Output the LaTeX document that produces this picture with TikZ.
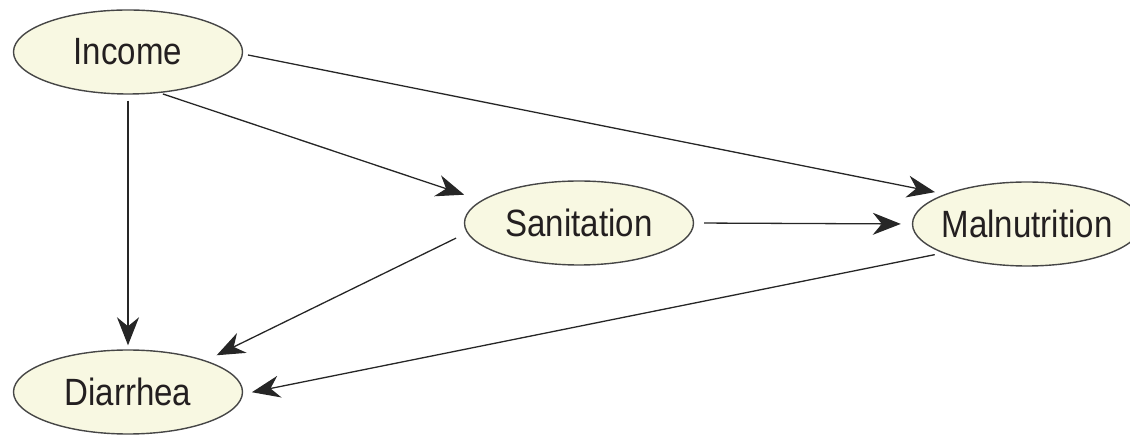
\documentclass[tikz,border=0pt]{standalone}
\usepackage{fontspec}
\newfontfamily\labelfont[FakeStretch=0.87]{Liberation Sans}
\usetikzlibrary{shapes.geometric,arrows.meta}
\definecolor{nodefill}{RGB}{248,248,226}
\definecolor{nodeedge}{RGB}{70,70,70}
\definecolor{textcol}{RGB}{35,31,32}
% zero-width label box so the ellipse keeps its set size
\newcommand{\lbl}[1]{\makebox[0pt][c]{#1}}
\tikzset{
  factor/.style={ellipse, draw=nodeedge, line width=1.4pt, fill=nodefill,
    minimum width=229pt, minimum height=84pt, inner sep=0pt,
    font=\labelfont\fontsize{38}{40}\selectfont, text=textcol},
  causal/.style={line width=1.3pt, draw=black!85,
    -{Stealth[length=28pt,width=22pt,inset=9pt]}}
}
\begin{document}
\begin{tikzpicture}[x=1pt,y=-1pt]
\useasboundingbox (0,0) rectangle (1130,435);

\node[factor] (inc) at (128,52)  {\lbl{Income}};
\node[factor] (san) at (579,223) {\lbl{Sanitation}};
\node[factor] (mal) at (1027,224) {\lbl{Malnutrition}};
\node[factor] (dia) at (128,392) {\lbl{Diarrhea}};

\draw[causal, shorten <=5pt, shorten >=10pt] (inc.-1.4) -- (mal.160);
\draw[causal, shorten <=3pt, shorten >=18pt] (inc.-52.3) -- (san.167.8);
\draw[causal, shorten <=6pt, shorten >=4pt] (inc.south) -- (dia.north);
\draw[causal, shorten <=10pt, shorten >=11pt] (san.east) -- (mal.west);
\draw[causal, shorten <=12pt, shorten >=12pt] (san.-175.4) -- (dia.22.9);
\draw[causal, shorten <=8pt, shorten >=9pt] (mal.199.8) -- (dia.-1);
\end{tikzpicture}
\end{document}
